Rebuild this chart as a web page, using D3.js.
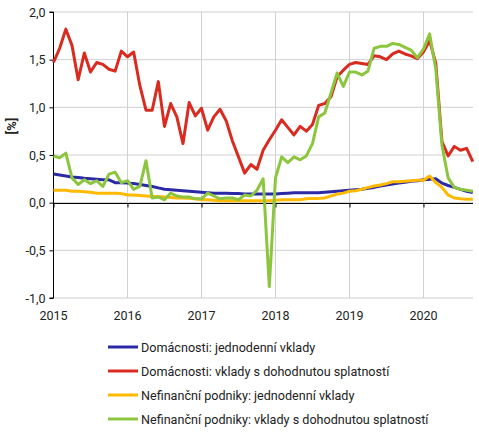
<!DOCTYPE html>
<html><head><meta charset="utf-8">
<script src="https://cdn.jsdelivr.net/npm/d3@7"></script>
<style>body{margin:0;background:#fff}svg{display:block}text{font-family:Roboto,"Noto Sans",sans-serif;fill:#222}</style>
</head><body><svg id="c" width="479" height="433"></svg>
<script>
const startYear = 2015;
const yearTicks = [2015, 2016, 2017, 2018, 2019, 2020];
const yTicks = [-1.0, -0.5, 0.0, 0.5, 1.0, 1.5, 2.0];
const seriesNames = [
  "Domácnosti: jednodenní vklady",
  "Domácnosti: vklady s dohodnutou splatností",
  "Nefinanční podniky: jednodenní vklady",
  "Nefinanční podniky: vklady s dohodnutou splatností"
];
const seriesColors = ["#2a2aa6", "#d92b20", "#ffb900", "#8cc63e"];
// monthly values Jan 2015 – Sep 2020
const hhOvernight = [
  0.30,0.29,0.28,0.27,0.265,0.255,0.25,0.245,0.24,0.24,0.21,0.21,
  0.205,0.20,0.19,0.18,0.17,0.155,0.14,0.135,0.13,0.125,0.12,0.115,
  0.11,0.105,0.10,0.10,0.10,0.095,0.095,0.09,0.09,0.09,0.09,0.09,
  0.09,0.095,0.10,0.105,0.105,0.105,0.105,0.105,0.11,0.115,0.12,0.125,
  0.13,0.135,0.14,0.15,0.16,0.175,0.185,0.195,0.205,0.215,0.225,0.23,
  0.24,0.245,0.25,0.205,0.18,0.16,0.14,0.12,0.105
];
const hhAgreed = [
  1.47,1.62,1.82,1.65,1.29,1.57,1.37,1.47,1.45,1.40,1.38,1.59,
  1.53,1.58,1.23,0.97,0.97,1.27,0.80,1.04,0.90,0.62,1.05,0.91,
  0.99,0.76,0.90,0.98,0.86,0.65,0.48,0.31,0.40,0.35,0.55,0.66,
  0.76,0.87,0.79,0.71,0.80,0.75,0.82,1.02,1.04,1.11,1.32,1.39,
  1.45,1.47,1.46,1.45,1.54,1.53,1.50,1.56,1.59,1.56,1.54,1.51,
  1.58,1.70,1.46,0.64,0.49,0.59,0.55,0.57,0.43
];
const nfcOvernight = [
  0.13,0.13,0.13,0.12,0.12,0.115,0.11,0.10,0.10,0.10,0.10,0.095,
  0.08,0.08,0.075,0.07,0.065,0.065,0.06,0.055,0.05,0.05,0.045,0.04,
  0.03,0.03,0.025,0.02,0.02,0.02,0.02,0.02,0.02,0.02,0.02,0.02,
  0.025,0.03,0.03,0.03,0.03,0.04,0.045,0.045,0.05,0.07,0.09,0.10,
  0.12,0.125,0.14,0.16,0.175,0.185,0.20,0.22,0.22,0.225,0.23,0.235,
  0.235,0.28,0.21,0.16,0.08,0.05,0.04,0.035,0.035
];
const nfcAgreed = [
  0.49,0.47,0.52,0.26,0.19,0.24,0.20,0.23,0.17,0.30,0.32,0.21,
  0.23,0.14,0.17,0.44,0.05,0.06,0.03,0.10,0.07,0.06,0.06,0.04,
  0.04,0.10,0.07,0.04,0.05,0.05,0.03,0.08,0.07,0.13,0.25,-0.88,
  0.26,0.48,0.42,0.48,0.45,0.49,0.62,0.90,0.94,1.15,1.36,1.22,
  1.37,1.37,1.34,1.38,1.62,1.64,1.64,1.67,1.66,1.63,1.60,1.52,
  1.61,1.77,1.40,0.60,0.26,0.16,0.14,0.13,0.12
];
const allSeries = [hhOvernight, hhAgreed, nfcOvernight, nfcAgreed];

const svg = d3.select("#c");
const m = {l: 53.5, r: 473, t: 12, b: 298};
const x = d3.scaleLinear().domain([2015, 2015 + 68/12]).range([m.l, 472.8]);
const y = d3.scaleLinear().domain([-1, 2]).range([m.b, m.t]);

const g = svg.append("g");
// gridlines
g.selectAll(".hg").data(yTicks).join("line")
  .attr("x1", m.l).attr("x2", m.r).attr("y1", d => y(d)).attr("y2", d => y(d))
  .attr("stroke", "#d0d0d0").attr("stroke-width", 1);
g.selectAll(".vg").data(yearTicks.slice(1)).join("line")
  .attr("x1", d => Math.round(x(d)) + 0.5).attr("x2", d => Math.round(x(d)) + 0.5)
  .attr("y1", m.t).attr("y2", m.b)
  .attr("stroke", "#d0d0d0").attr("stroke-width", 1);

// y axis
const yAxis = d3.axisLeft(y).tickValues(yTicks).tickSize(4)
  .tickFormat(d => d3.format(".1f")(d).replace(".", ",").replace("−", "-"));
const ya = svg.append("g").attr("transform", `translate(${m.l},0)`).call(yAxis);
ya.select(".domain").attr("stroke", "#000").attr("d", `M-4,${m.t}H0V${m.b}H-4`);
ya.selectAll(".tick line").attr("stroke", "#000");
ya.selectAll(".tick text").attr("font-size", 12.5).attr("x", -8).attr("fill", "#222");

// x axis at zero
const xAxis = d3.axisBottom(x).tickValues(yearTicks).tickSize(4).tickFormat("");
const xa = svg.append("g").attr("transform", `translate(0,${Math.round(y(0)) + 0.5})`).call(xAxis);
xa.select(".domain").attr("stroke", "#000").attr("d", `M${m.l},0H${m.r}`);
xa.selectAll(".tick line").attr("stroke", "#000");
// x labels at bottom
svg.append("g").selectAll("text").data(yearTicks).join("text")
  .attr("x", d => x(d)).attr("y", 320).attr("text-anchor", "middle")
  .attr("font-size", 12.5).text(d => d);

// y label
svg.append("text").attr("transform", "translate(16,126) rotate(-90)")
  .attr("text-anchor", "middle").attr("font-size", 13).attr("font-weight", "bold").text("[%]");

// lines
const line = d3.line().x((d, i) => x(startYear + i / 12)).y(d => y(d));
const order = [0, 2, 1, 3];
svg.append("g").selectAll("path").data(order).join("path")
  .attr("d", k => line(allSeries[k]))
  .attr("fill", "none").attr("stroke", k => seriesColors[k])
  .attr("stroke-width", 3).attr("stroke-linejoin", "round");

// legend
const lg = svg.append("g").selectAll("g").data(seriesNames).join("g")
  .attr("transform", (d, i) => `translate(108,${347 + i * 24})`);
lg.append("line").attr("x1", 0).attr("x2", 30).attr("y1", 0).attr("y2", 0)
  .attr("stroke", (d, i) => seriesColors[i]).attr("stroke-width", 3);
lg.append("text").attr("x", 33).attr("y", 4.5).attr("font-size", 12.6).text(d => d);
</script></body></html>
